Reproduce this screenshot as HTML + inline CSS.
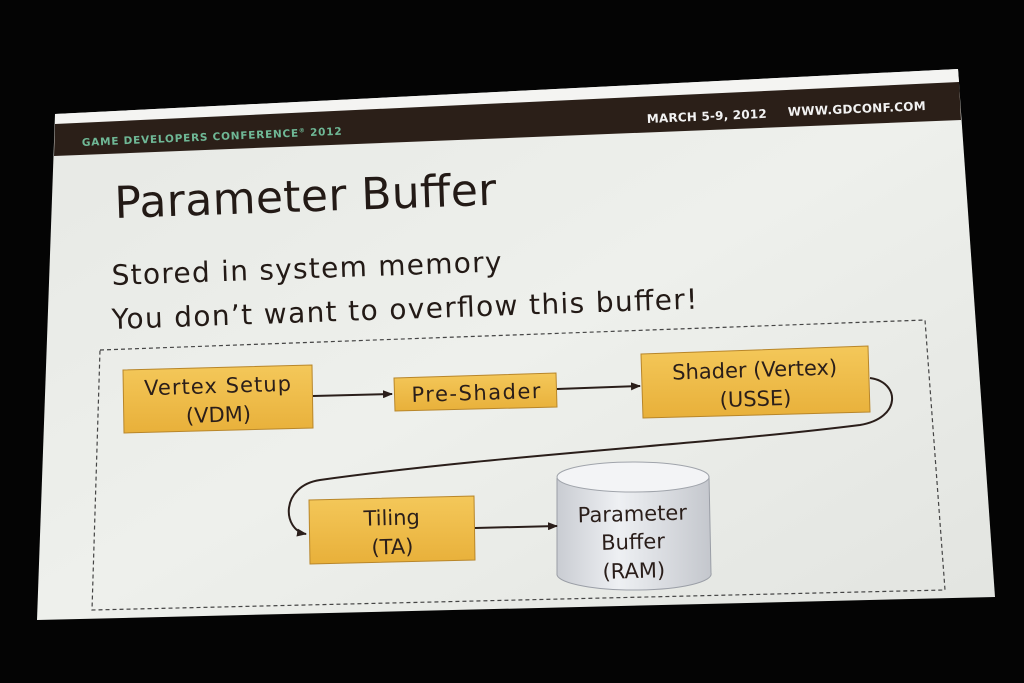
<!DOCTYPE html>
<html><head><meta charset="utf-8"><style>
html,body{margin:0;padding:0;background:#050505;}
svg{display:block}
text{font-family:"DejaVu Sans","Liberation Sans",sans-serif;}
</style></head><body>
<svg width="1024" height="683" viewBox="0 0 1024 683" xmlns="http://www.w3.org/2000/svg">
<defs>
<linearGradient id="scr" x1="0" y1="0" x2="1" y2="1">
<stop offset="0" stop-color="#e6e8e4"/><stop offset="0.5" stop-color="#eef0ec"/><stop offset="1" stop-color="#e2e4e0"/>
</linearGradient>
<linearGradient id="box" x1="0" y1="0" x2="0" y2="1">
<stop offset="0" stop-color="#f4c85a"/><stop offset="1" stop-color="#e8b03a"/>
</linearGradient>
<linearGradient id="cyl" x1="0" y1="0" x2="1" y2="0">
<stop offset="0" stop-color="#c9ccd2"/><stop offset="0.4" stop-color="#eef0f3"/><stop offset="1" stop-color="#c4c7cd"/>
</linearGradient>
<marker id="ah" markerWidth="10" markerHeight="8" refX="9" refY="4" orient="auto" markerUnits="userSpaceOnUse">
<path d="M0,0 L10,4 L0,8 z" fill="#2a1e1a"/></marker>
</defs>
<rect width="1024" height="683" fill="#040404"/>
<polygon points="55,114 958,69 995,597 37,620" fill="url(#scr)"/>
<polygon points="55,114 958,69 959,82 55,124" fill="#f4f4f2"/>
<polygon points="55,124 959,82 961,120 54,156" fill="#2b1f18"/>
<text x="82" y="146" font-size="10.5" font-weight="bold" fill="#6fb896" textLength="260" transform="rotate(-2.5 82 146)">GAME DEVELOPERS CONFERENCE<tspan font-size="6" dy="-4">®</tspan><tspan dy="4"> 2012</tspan></text>
<text x="647" y="123" font-size="12" font-weight="bold" fill="#f2f2f2" textLength="120" transform="rotate(-2.5 647 123)">MARCH 5-9, 2012</text>
<text x="788" y="116" font-size="12" font-weight="bold" fill="#f2f2f2" textLength="138" transform="rotate(-2.5 788 116)">WWW.GDCONF.COM</text>
<text x="115" y="218" font-size="44" fill="#231a16" textLength="382" transform="rotate(-2.0 115 218)">Parameter Buffer</text>
<text x="112" y="285" font-size="28" fill="#231a16" textLength="390" transform="rotate(-2.0 112 285)">Stored in system memory</text>
<text x="112" y="329" font-size="28" fill="#231a16" textLength="586" transform="rotate(-2.0 112 329)">You don’t want to overflow this buffer!</text>
<polygon points="100,350 925,320 945,590 92,610" fill="none" stroke="#444" stroke-width="1.2" stroke-dasharray="4,3"/>
<polygon points="123,370 312,365 313,428 124,433" fill="url(#box)" stroke="#b8862a"/>
<polygon points="394,378 556,373 557,407 395,411" fill="url(#box)" stroke="#b8862a"/>
<polygon points="641,354 868,346 870,412 643,418" fill="url(#box)" stroke="#b8862a"/>
<polygon points="309,500 474,496 475,560 310,564" fill="url(#box)" stroke="#b8862a"/>
<path d="M557,478 L557,575 A77,16 0 0 0 711,573 L709,476" fill="url(#cyl)" stroke="#9a9ea6"/>
<ellipse cx="633" cy="477" rx="76" ry="15" fill="#f3f4f6" stroke="#a0a4ab"/>
<g stroke="#2a1e1a" stroke-width="2" fill="none">
<line x1="313" y1="396" x2="392" y2="394" marker-end="url(#ah)"/>
<line x1="557" y1="389" x2="640" y2="386" marker-end="url(#ah)"/>
<line x1="475" y1="528" x2="557" y2="526" marker-end="url(#ah)"/>
<path d="M870,378 C900,382 902,418 860,425 C700,445 500,455 320,480 C280,486 282,530 306,534" marker-end="url(#ah)"/>
</g>
<g font-size="21" fill="#2a1e1a" text-anchor="middle">
<g transform="rotate(-1.8 218 400)"><text x="218" y="393" textLength="147">Vertex Setup</text><text x="218" y="422">(VDM)</text></g>
<text x="476" y="400" textLength="129" transform="rotate(-1.8 476 393)">Pre-Shader</text>
<g transform="rotate(-1.8 755 382)"><text x="755" y="377">Shader (Vertex)</text><text x="755" y="406">(USSE)</text></g>
<g transform="rotate(-1.5 392 530)"><text x="392" y="525">Tiling</text><text x="392" y="554">(TA)</text></g>
<g transform="rotate(-1.5 633 540)"><text x="633" y="521">Parameter</text><text x="633" y="549">Buffer</text><text x="633" y="578">(RAM)</text></g>
</g>
</svg>
</body></html>
